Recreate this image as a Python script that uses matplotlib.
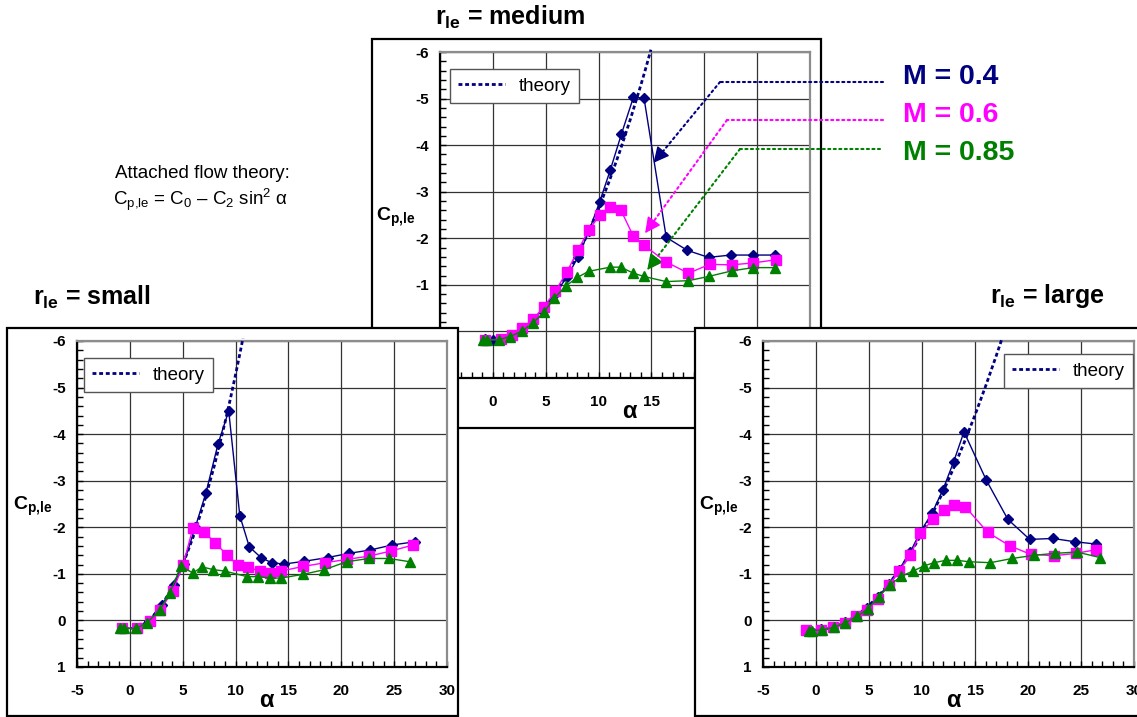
import matplotlib
matplotlib.use('Agg')
import numpy as np
import matplotlib.pyplot as plt
from matplotlib.patches import Rectangle
from matplotlib.ticker import MultipleLocator

plt.rcParams['font.family'] = ['Liberation Sans', 'DejaVu Sans']
plt.rcParams['mathtext.fontset'] = 'custom'
plt.rcParams['mathtext.rm'] = 'Liberation Sans'
plt.rcParams['mathtext.it'] = 'Liberation Sans:italic'
plt.rcParams['mathtext.bf'] = 'Liberation Sans:bold'
plt.rcParams['mathtext.sf'] = 'Liberation Sans'
plt.rcParams['axes.unicode_minus'] = False

# ---------------- data ----------------
x_ticks = [-5, 0, 5, 10, 15, 20, 25, 30]
x_ticklabels = ['-5', '0', '5', '10', '15', '20', '25', '30']
y_ticks = [-6, -5, -4, -3, -2, -1, 0, 1]
y_ticklabels = ['-6', '-5', '-4', '-3', '-2', '-1', '0', '1']
mach_labels = ['M = 0.4', 'M = 0.6', 'M = 0.85']

# r_le = small
small_a_04 = [-0.74, 0.68, 1.78, 3.04, 4.14, 5.09, 6.20, 7.2, 8.34, 9.35, 10.4, 11.3, 12.4, 13.4, 14.55, 16.5, 18.7, 20.7, 22.7, 24.8, 27.0]
small_c_04 = [0.17, 0.17, 0.01, -0.33, -0.76, -1.22, -2.01, -2.74, -3.79, -4.50, -2.25, -1.58, -1.35, -1.24, -1.21, -1.27, -1.35, -1.44, -1.51, -1.62, -1.69]
small_a_06 = [-0.74, 0.68, 1.94, 2.89, 4.05, 5.03, 5.97, 7.04, 8.08, 9.19, 10.2, 11.15, 12.3, 13.3, 14.3, 16.4, 18.5, 20.5, 22.6, 24.7, 26.8]
small_c_06 = [0.17, 0.17, 0.01, -0.23, -0.63, -1.19, -1.99, -1.89, -1.67, -1.40, -1.19, -1.14, -1.06, -1.01, -1.06, -1.16, -1.24, -1.31, -1.38, -1.49, -1.62]
small_a_085 = [-0.90, -0.52, 0.61, 1.62, 2.83, 3.77, 4.84, 5.97, 6.83, 7.9, 8.97, 11.1, 12.1, 13.3, 14.3, 16.4, 18.4, 20.5, 22.6, 24.5, 26.5]
small_c_085 = [0.17, 0.17, 0.17, 0.05, -0.22, -0.59, -1.16, -1.02, -1.15, -1.09, -1.06, -0.94, -0.94, -0.91, -0.91, -0.99, -1.09, -1.26, -1.33, -1.33, -1.26]
small_a_th = [-0.5, 0, 1, 2, 3, 4, 5, 6, 7, 8, 9, 9.5, 10, 10.4, 10.7]
small_c_th = [0.17, 0.18, 0.13, -0.04, -0.32, -0.70, -1.19, -1.80, -2.51, -3.33, -4.25, -4.75, -5.28, -5.72, -6.06]

# r_le = medium
med_a_04 = [-0.76, 0.03, 0.82, 1.77, 2.78, 3.83, 4.84, 5.89, 6.99, 8.04, 9.08, 10.1, 11.1, 12.15, 13.3, 14.3, 16.4, 18.4, 20.4, 22.5, 24.6, 26.7]
med_c_04 = [0.16, 0.18, 0.17, 0.07, -0.05, -0.26, -0.50, -0.81, -1.16, -1.59, -2.15, -2.78, -3.46, -4.23, -5.03, -5.01, -2.02, -1.74, -1.59, -1.64, -1.64, -1.64]
med_a_06 = [-0.76, 0.76, 1.77, 2.78, 3.83, 4.84, 5.89, 6.99, 8.04, 9.08, 10.1, 11.1, 12.1, 13.3, 14.3, 16.4, 18.5, 20.5, 22.6, 24.6, 26.8]
med_c_06 = [0.18, 0.17, 0.07, -0.07, -0.27, -0.53, -0.86, -1.27, -1.74, -2.18, -2.49, -2.67, -2.61, -2.04, -1.85, -1.49, -1.25, -1.44, -1.43, -1.47, -1.54]
med_a_085 = [-0.92, -0.54, 0.57, 1.61, 2.72, 3.77, 4.84, 5.79, 6.93, 8.0, 9.05, 11.1, 12.1, 13.3, 14.3, 16.4, 18.5, 20.4, 22.6, 24.6, 26.7]
med_c_085 = [0.18, 0.18, 0.18, 0.11, 0.0, -0.18, -0.41, -0.71, -0.98, -1.16, -1.29, -1.38, -1.38, -1.25, -1.18, -1.07, -1.09, -1.18, -1.30, -1.37, -1.37]
med_a_th = [-0.5, 0, 1, 2, 3, 4, 5, 6, 7, 8, 9, 10, 11, 12, 13, 14, 14.5, 14.95]
med_c_th = [0.17, 0.18, 0.15, 0.07, -0.08, -0.27, -0.53, -0.84, -1.21, -1.63, -2.11, -2.64, -3.22, -3.86, -4.55, -5.29, -5.68, -6.05]

# r_le = large
large_a_04 = [-0.9, 0.5, 1.6, 2.7, 3.74, 4.81, 5.85, 6.89, 7.83, 8.9, 9.84, 10.94, 11.98, 12.99, 13.96, 16.07, 18.1, 20.16, 22.36, 24.4, 26.4]
large_c_04 = [0.2, 0.19, 0.15, 0.04, -0.1, -0.26, -0.5, -0.79, -1.09, -1.47, -1.9, -2.30, -2.81, -3.41, -4.05, -3.01, -2.17, -1.74, -1.76, -1.69, -1.64]
large_a_06 = [-0.91, 0.50, 1.60, 2.70, 3.74, 4.81, 5.85, 6.89, 7.83, 8.9, 9.84, 11.04, 12.04, 12.99, 14.09, 16.2, 18.3, 20.25, 22.45, 24.5, 26.45]
large_c_06 = [0.21, 0.20, 0.15, 0.05, -0.09, -0.23, -0.47, -0.76, -1.06, -1.40, -1.87, -2.17, -2.38, -2.48, -2.44, -1.89, -1.60, -1.42, -1.39, -1.44, -1.52]
large_a_085 = [-0.66, -0.35, 0.60, 1.67, 2.77, 3.87, 4.91, 5.91, 7.01, 8.05, 9.15, 10.19, 11.13, 12.23, 13.33, 14.43, 16.45, 18.5, 20.6, 22.56, 24.6, 26.8]
large_c_085 = [0.22, 0.22, 0.20, 0.15, 0.05, -0.09, -0.25, -0.51, -0.77, -0.95, -1.06, -1.17, -1.24, -1.29, -1.29, -1.26, -1.24, -1.33, -1.40, -1.44, -1.47, -1.35]
large_a_th = [-0.5, 0, 1, 2, 3, 4, 5, 6, 7, 8, 9, 10, 11, 12, 13, 14, 15, 16, 17, 17.5]
large_c_th = [0.19, 0.2, 0.18, 0.12, 0.01, -0.13, -0.32, -0.55, -0.82, -1.13, -1.48, -1.87, -2.30, -2.77, -3.28, -3.83, -4.41, -5.03, -5.68, -6.02]

NAVY = '#000080'
MAG = '#FF00FF'
GRN = '#008000'

W, H = 1137, 717
fig = plt.figure(figsize=(W / 100, H / 100), dpi=100)


def fx(px):
    return px / W


def fy(py):
    return 1 - py / H


def frame(x0, y0, x1, y1, z):
    r = Rectangle((fx(x0), fy(y1)), fx(x1) - fx(x0), fy(y0) - fy(y1),
                  transform=fig.transFigure, facecolor='white',
                  edgecolor='black', lw=1.6, zorder=z)
    fig.add_artist(r)


def panel(px_rect, z, a4, c4, a6, c6, a8, c8, ath, cth, leg_loc, leg_anchor):
    x0, y0, x1, y1 = px_rect
    ax = fig.add_axes([fx(x0), fy(y1), fx(x1) - fx(x0), fy(y0) - fy(y1)], zorder=z)
    ax.plot(a4, c4, color=NAVY, lw=1.0, marker='D', ms=5, zorder=3)
    th, = ax.plot(ath, cth, color=NAVY, lw=2.0, ls=(0, (1.4, 1.0)),
                  clip_on=False, zorder=3.5, label='theory')
    ax.plot(a6, c6, color=MAG, lw=1.0, marker='s', ms=6.5, zorder=4)
    ax.plot(a8, c8, color=GRN, lw=1.0, marker='^', ms=7, zorder=5)
    ax.set_xlim(-5, 30)
    ax.set_ylim(1, -6)
    ax.set_xticks(x_ticks)
    ax.set_xticklabels(x_ticklabels, fontweight='bold', fontsize=11)
    ax.set_yticks(y_ticks)
    ax.set_yticklabels(y_ticklabels, fontweight='bold', fontsize=11)
    ax.xaxis.set_minor_locator(MultipleLocator(1))
    ax.yaxis.set_minor_locator(MultipleLocator(0.2))
    ax.tick_params(which='both', direction='in', length=4, width=1, color='black',
                   top=False, right=False)
    ax.tick_params(axis='x', pad=12)
    ax.tick_params(axis='y', pad=8)
    ax.grid(True, which='major', color='#333333', lw=0.9)
    for s in ['left', 'bottom']:
        ax.spines[s].set_color('black')
        ax.spines[s].set_linewidth(1.6)
    for s in ['top', 'right']:
        ax.spines[s].set_color('#8c8c8c')
        ax.spines[s].set_linewidth(1.6)
    ax.text(-0.173, 0.493, r'$\mathbf{C_{p{,}le}}$', transform=ax.transAxes,
            ha='left', va='center', fontsize=14, fontweight='bold')
    ax.text(0.512, -0.104, 'α', transform=ax.transAxes, ha='center', va='center',
            fontsize=17, fontweight='bold')
    leg = ax.legend(handles=[th], loc=leg_loc, bbox_to_anchor=leg_anchor,
                    borderaxespad=0, fancybox=False, framealpha=1,
                    edgecolor='#555555', fontsize=13.5, handlelength=2.5,
                    handletextpad=0.7, borderpad=0.45)
    leg.get_frame().set_linewidth(1.0)
    leg.set_zorder(10)
    return ax


# medium panel (behind)
frame(372, 39, 821, 428, 1)
axm = panel((440, 52, 810, 378), 2, med_a_04, med_c_04, med_a_06, med_c_06,
            med_a_085, med_c_085, med_a_th, med_c_th, 'upper left', (0.027, 0.948))

# leader lines for Mach labels
leader = [
    (NAVY, (883, 82), (720, 82), (15.2, -3.62)),
    (MAG, (883, 120), (727, 120), (14.4, -2.11)),
    (GRN, (880, 149), (740, 149), (14.6, -1.32)),
]
for col, p_end, p_corner, tip in leader:
    corner = np.array([p_corner[0], H - p_corner[1]], dtype=float)
    end = np.array([p_end[0], H - p_end[1]], dtype=float)
    tip_px = axm.transData.transform(tip)
    d = corner - tip_px
    d = d / np.hypot(*d)
    head_start = tip_px + d * 12
    axm.annotate('', xy=corner, xycoords='figure pixels',
                 xytext=end, textcoords='figure pixels',
                 arrowprops=dict(arrowstyle='-', color=col, lw=1.5, ls=':',
                                 shrinkA=0, shrinkB=0), annotation_clip=False)
    axm.annotate('', xy=head_start, xycoords='figure pixels',
                 xytext=corner, textcoords='figure pixels',
                 arrowprops=dict(arrowstyle='-', color=col, lw=1.5, ls=':',
                                 shrinkA=0, shrinkB=0), annotation_clip=False)
    axm.annotate('', xy=tip_px, xycoords='figure pixels',
                 xytext=head_start + d * 1, textcoords='figure pixels',
                 arrowprops=dict(arrowstyle='-|>,head_length=0.6,head_width=0.3',
                                 color=col, lw=1.0, mutation_scale=16,
                                 shrinkA=0, shrinkB=0),
                 annotation_clip=False)

for lab, col, yc in zip(mach_labels, [NAVY, MAG, GRN], [76.5, 115, 153]):
    fig.text(fx(903), fy(yc), lab, color=col, fontsize=20.5, fontweight='bold',
             ha='left', va='center', zorder=3)

# small panel
frame(7, 328, 458, 716, 4)
panel((77, 341, 447, 667), 5, small_a_04, small_c_04, small_a_06, small_c_06,
      small_a_085, small_c_085, small_a_th, small_c_th, 'upper left', (0.019, 0.948))

# large panel
frame(695, 328, 1150, 716, 4)
panel((763, 341, 1134, 667), 5, large_a_04, large_c_04, large_a_06, large_c_06,
      large_a_085, large_c_085, large_a_th, large_c_th, 'upper right', (0.997, 0.960))

# titles
fig.text(fx(435), fy(17), r'$\mathbf{r_{le}}$ = medium', fontsize=18,
         fontweight='bold', ha='left', va='center', zorder=3)
fig.text(fx(33), fy(297), r'$\mathbf{r_{le}}$ = small', fontsize=18,
         fontweight='bold', ha='left', va='center', zorder=3)
fig.text(fx(990), fy(296), r'$\mathbf{r_{le}}$ = large', fontsize=18,
         fontweight='bold', ha='left', va='center', zorder=3)

fig.text(fx(202), fy(173), 'Attached flow theory:', fontsize=13.5,
         ha='center', va='center', zorder=3)
fig.text(fx(201), fy(200), r'C$_\mathrm{p{,}le}$ = C$_\mathrm{0}$ – C$_\mathrm{2}$ sin$^\mathrm{2}$ α',
         fontsize=13.5, ha='center', va='center', zorder=3)

fig.savefig('out.png', dpi=100)
